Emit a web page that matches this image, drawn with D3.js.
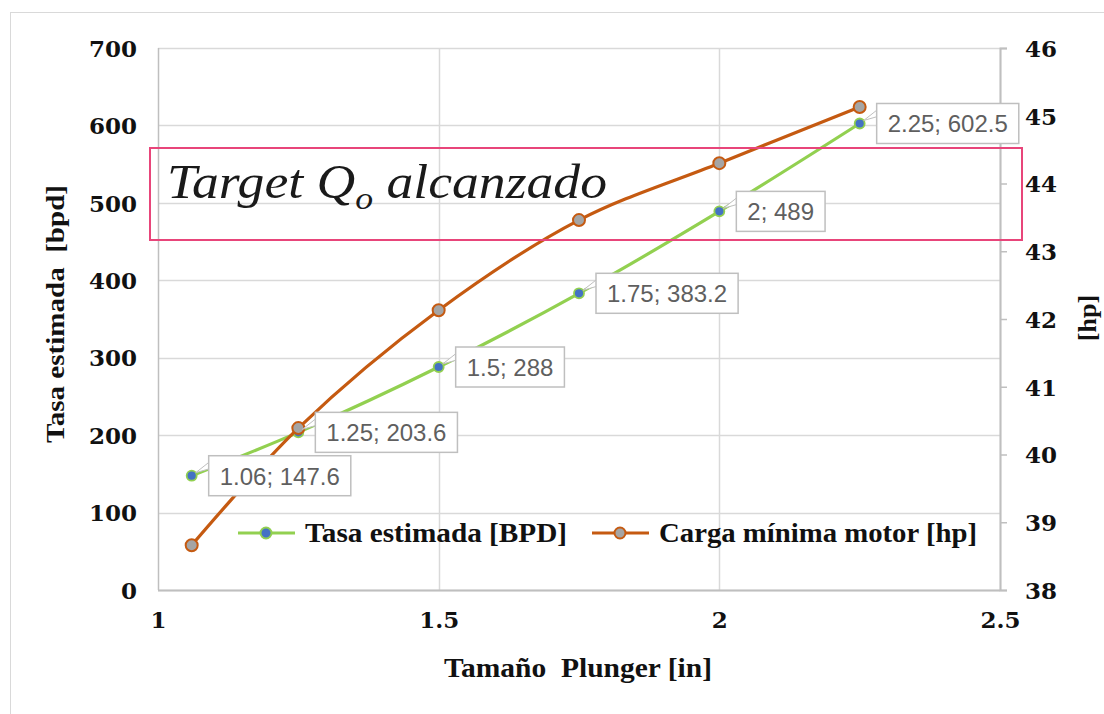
<!DOCTYPE html>
<html>
<head>
<meta charset="utf-8">
<script src="https://cdn.jsdelivr.net/npm/d3@7/dist/d3.min.js"></script>
<style>
  html, body { margin: 0; padding: 0; background: #fff; }
  svg { display: block; }
</style>
</head>
<body>
<svg id="chart" width="1104" height="714"></svg>
<script>
// Data
const plunger = [1.06, 1.25, 1.5, 1.75, 2, 2.25];
const tasa = [147.6, 203.6, 288, 383.2, 489, 602.5];
const carga = [38.66, 40.39, 42.13, 43.46, 44.30, 45.13];

const xTicks = [1, 1.5, 2, 2.5];
const yTicks = [0, 100, 200, 300, 400, 500, 600, 700];
const y2Ticks = [38, 39, 40, 41, 42, 43, 44, 45, 46];

const seriesNames = ['Tasa estimada [BPD]', 'Carga mínima motor [hp]'];

const svg = d3.select('#chart');

// outer frame
svg.append('rect')
    .attr('x', 10.5).attr('y', 12.5)
    .attr('width', 1110).attr('height', 720)
    .attr('fill', '#fff')
    .attr('stroke', '#d9d9d9');

const plot = { left: 158, right: 1000, top: 48, bottom: 590 };

const x = d3.scaleLinear().domain([1, 2.5]).range([plot.left, plot.right]);
const y = d3.scaleLinear().domain([0, 700]).range([plot.bottom, plot.top]);
const y2 = d3.scaleLinear().domain([38, 46]).range([plot.bottom, plot.top]);

const tickFont = "'DejaVu Serif', serif";
const titleFont = "'Liberation Serif', serif";

// gridlines
svg.append('g')
    .selectAll('line')
    .data(yTicks)
    .join('line')
    .attr('x1', plot.left).attr('x2', plot.right)
    .attr('y1', d => Math.round(y(d)) + 0.5).attr('y2', d => Math.round(y(d)) + 0.5)
    .attr('stroke', '#d9d9d9').attr('stroke-width', 1.5);

svg.append('g')
    .selectAll('line')
    .data(xTicks)
    .join('line')
    .attr('x1', d => Math.round(x(d)) + 0.5).attr('x2', d => Math.round(x(d)) + 0.5)
    .attr('y1', plot.top).attr('y2', plot.bottom)
    .attr('stroke', d => (d === 1 ? '#bfbfbf' : '#d9d9d9')).attr('stroke-width', 1.5);

// bottom axis line
svg.append('line')
    .attr('x1', plot.left).attr('x2', plot.right)
    .attr('y1', plot.bottom + 0.5).attr('y2', plot.bottom + 0.5)
    .attr('stroke', '#bfbfbf').attr('stroke-width', 2);

// right axis with outward ticks
const rightAxis = svg.append('g')
    .attr('transform', `translate(${plot.right},0)`)
    .call(d3.axisRight(y2).tickValues(y2Ticks).tickSize(7).tickPadding(18).tickFormat(d3.format('d')));
rightAxis.select('.domain').attr('stroke', '#bfbfbf').attr('stroke-width', 2);
rightAxis.selectAll('.tick line').attr('stroke', '#bfbfbf').attr('stroke-width', 1.5);
rightAxis.selectAll('.tick text')
    .attr('font-family', tickFont).attr('font-weight', 'bold')
    .attr('font-size', 23).attr('fill', '#111')
    .attr('dy', '0.36em');

// left tick labels
const leftAxis = svg.append('g')
    .attr('transform', `translate(${plot.left},0)`)
    .call(d3.axisLeft(y).tickValues(yTicks).tickSize(0).tickPadding(21).tickFormat(d3.format('d')));
leftAxis.select('.domain').remove();
leftAxis.selectAll('.tick text')
    .attr('font-family', tickFont).attr('font-weight', 'bold')
    .attr('font-size', 23).attr('fill', '#111')
    .attr('dy', '0.36em');

// bottom tick labels
const bottomAxis = svg.append('g')
    .attr('transform', `translate(0,${plot.bottom})`)
    .call(d3.axisBottom(x).tickValues(xTicks).tickSize(0).tickPadding(22).tickFormat(d => d));
bottomAxis.select('.domain').remove();
bottomAxis.selectAll('.tick text')
    .attr('font-family', tickFont).attr('font-weight', 'bold')
    .attr('font-size', 23).attr('fill', '#111');

// axis titles
svg.append('text')
    .attr('x', 578).attr('y', 677)
    .attr('text-anchor', 'middle')
    .attr('font-family', titleFont).attr('font-weight', 'bold').attr('font-size', 27)
    .attr('fill', '#111')
    .attr('textLength', 268).attr('lengthAdjust', 'spacingAndGlyphs')
    .style('white-space', 'pre')
    .text('Tamaño  Plunger [in]');

svg.append('text')
    .attr('transform', 'translate(64,314) rotate(-90)')
    .attr('text-anchor', 'middle')
    .attr('font-family', titleFont).attr('font-weight', 'bold').attr('font-size', 26)
    .attr('fill', '#111')
    .attr('textLength', 258).attr('lengthAdjust', 'spacingAndGlyphs')
    .style('white-space', 'pre')
    .text('Tasa estimada  [bpd]');

svg.append('text')
    .attr('transform', 'translate(1096,318) rotate(-90)')
    .attr('text-anchor', 'middle')
    .attr('font-family', titleFont).attr('font-weight', 'bold').attr('font-size', 26)
    .attr('fill', '#111')
    .text('[hp]');

// series
const green = '#92d050', blue = '#4472c4', orange = '#c55a11', gray = '#a5a5a5';

const tasaPts = plunger.map((p, i) => [x(p), y(tasa[i])]);
const cargaPts = plunger.map((p, i) => [x(p), y2(carga[i])]);

const line = d3.line().curve(d3.curveCatmullRom.alpha(0.5));

svg.append('path')
    .attr('d', line(tasaPts))
    .attr('fill', 'none').attr('stroke', green).attr('stroke-width', 3.2)
    .attr('stroke-linecap', 'round');

svg.append('g')
    .selectAll('circle')
    .data(tasaPts)
    .join('circle')
    .attr('cx', d => d[0]).attr('cy', d => d[1]).attr('r', 5)
    .attr('fill', blue).attr('stroke', green).attr('stroke-width', 1.8);

svg.append('path')
    .attr('d', line(cargaPts))
    .attr('fill', 'none').attr('stroke', orange).attr('stroke-width', 3.2)
    .attr('stroke-linecap', 'round');

svg.append('g')
    .selectAll('circle')
    .data(cargaPts)
    .join('circle')
    .attr('cx', d => d[0]).attr('cy', d => d[1]).attr('r', 6)
    .attr('fill', gray).attr('stroke', orange).attr('stroke-width', 2);

// data labels with callouts
const labelG = svg.append('g');
plunger.forEach((p, i) => {
    const px = x(p), py = y(tasa[i]);
    const g = labelG.append('g');
    const t = g.append('text')
        .attr('font-family', "'Liberation Sans', sans-serif")
        .attr('font-size', 24)
        .attr('fill', '#5f5f5f')
        .text(`${p}; ${tasa[i]}`);
    const w = t.node().getComputedTextLength();
    const bx = px + 17, bh = 40, bw = w + 22, by = py - bh / 2;
    g.insert('path', 'text')
        .attr('d', `M${px + 4},${py - 3} L${bx + 1},${by + 6} L${bx + 1},${by + 13} Z`)
        .attr('fill', '#fff').attr('stroke', '#bfbfbf').attr('stroke-width', 1);
    g.insert('rect', 'text')
        .attr('x', bx).attr('y', by).attr('width', bw).attr('height', bh)
        .attr('fill', '#fff').attr('stroke', '#bfbfbf').attr('stroke-width', 1.5);
    t.attr('x', bx + 11).attr('y', py + 9);
});

// legend
const legend = svg.append('g');
const legendItems = [
    { name: seriesNames[0], stroke: green, fill: blue, x0: 238, len: 262 },
    { name: seriesNames[1], stroke: orange, fill: gray, x0: 592, len: 318 }
];
legendItems.forEach(it => {
    legend.append('line')
        .attr('x1', it.x0).attr('x2', it.x0 + 57)
        .attr('y1', 533).attr('y2', 533)
        .attr('stroke', it.stroke).attr('stroke-width', 3.2);
    legend.append('circle')
        .attr('cx', it.x0 + 28).attr('cy', 533).attr('r', 5.5)
        .attr('fill', it.fill).attr('stroke', it.stroke).attr('stroke-width', 2);
    legend.append('text')
        .attr('x', it.x0 + 67).attr('y', 542)
        .attr('font-family', titleFont).attr('font-weight', 'bold').attr('font-size', 27)
        .attr('fill', '#111')
        .attr('textLength', it.len).attr('lengthAdjust', 'spacingAndGlyphs')
        .text(it.name);
});

// annotation box
svg.append('rect')
    .attr('x', 150).attr('y', 148).attr('width', 872).attr('height', 92)
    .attr('fill', 'none').attr('stroke', '#e8457a').attr('stroke-width', 2);

const ann = svg.append('text')
    .attr('x', 167).attr('y', 198)
    .attr('font-family', titleFont).attr('font-style', 'italic').attr('font-size', 48)
    .attr('fill', '#1a1a1a')
    .attr('textLength', 440).attr('lengthAdjust', 'spacingAndGlyphs');
ann.append('tspan').text('Target Q');
ann.append('tspan').attr('dy', 11).attr('font-size', 32).text('o');
ann.append('tspan').attr('dy', -11).text(' alcanzado');
</script>
</body>
</html>
